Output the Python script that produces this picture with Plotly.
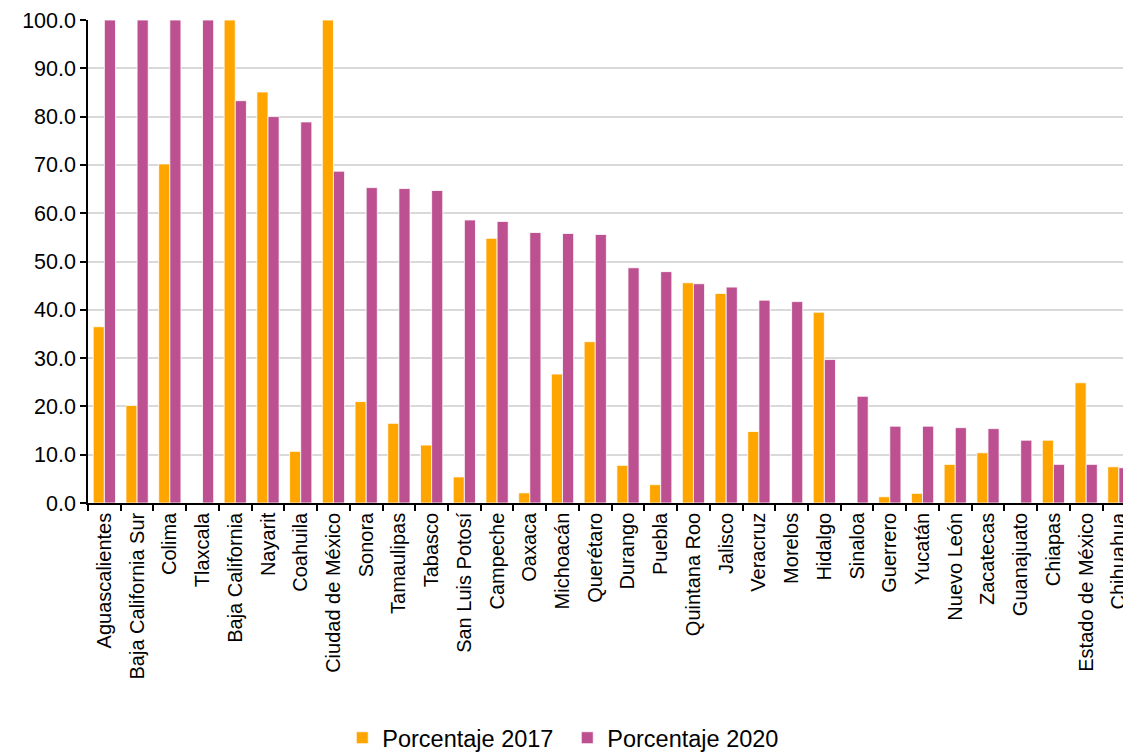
import plotly.graph_objects as go

estados = ["Aguascalientes", "Baja California Sur", "Colima", "Tlaxcala", "Baja California",
           "Nayarit", "Coahuila", "Ciudad de México", "Sonora", "Tamaulipas", "Tabasco",
           "San Luis Potosí", "Campeche", "Oaxaca", "Michoacán", "Querétaro", "Durango",
           "Puebla", "Quintana Roo", "Jalisco", "Veracruz", "Morelos", "Hidalgo", "Sinaloa",
           "Guerrero", "Yucatán", "Nuevo León", "Zacatecas", "Guanajuato", "Chiapas",
           "Estado de México", "Chihuahua"]

porc_2017 = [36.5, 20.2, 70.2, 0.0, 100.0, 85.1, 10.7, 100.0, 21.0, 16.5, 12.0,
             5.4, 54.8, 2.1, 26.7, 33.4, 7.8, 3.8, 45.6, 43.4, 14.8, 0.0, 39.5, 0.0,
             1.3, 2.0, 8.0, 10.4, 0.0, 13.0, 24.9, 7.5]

porc_2020 = [100.0, 100.0, 100.0, 100.0, 83.3, 80.0, 78.9, 68.7, 65.3, 65.1, 64.7,
             58.6, 58.3, 56.0, 55.8, 55.6, 48.7, 47.9, 45.4, 44.7, 42.0, 41.7, 29.7, 22.1,
             15.9, 15.9, 15.6, 15.4, 13.0, 8.0, 8.0, 7.3]

y_ticks = [0, 10, 20, 30, 40, 50, 60, 70, 80, 90, 100]

font_family = "Liberation Sans, Arial, sans-serif"

fig = go.Figure()
fig.add_trace(go.Bar(x=estados, y=porc_2017, name="Porcentaje 2017",
                     marker=dict(color="#FFA500", line=dict(color="white", width=0.8))))
fig.add_trace(go.Bar(x=estados, y=porc_2020, name="Porcentaje 2020",
                     marker=dict(color="#BD5090", line=dict(color="white", width=0.8))))

fig.update_layout(
    width=1123, height=745,
    margin=dict(l=80, r=0, t=12, b=250, autoexpand=False),
    plot_bgcolor="white", paper_bgcolor="white",
    barmode="group", bargap=0.32, bargroupgap=0.0,
    font=dict(family=font_family, size=21, color="#000000"),
    legend=dict(orientation="h", xref="container", x=0.498, xanchor="center",
                yref="paper", y=-0.532, yanchor="bottom", font=dict(size=23.5),
                itemwidth=30, entrywidthmode="pixels", entrywidth=180),
)
fig.update_xaxes(
    type="category", range=[-0.5, 31.37], tickangle=-90, tickson="boundaries",
    ticks="outside", ticklen=6, tickwidth=1.5, tickcolor="black",
    showline=True, linecolor="black", linewidth=1.5, showgrid=False,
    tickfont=dict(size=20), automargin=False,
)
fig.update_yaxes(
    range=[0, 100], tickvals=y_ticks, tickformat=".1f",
    ticks="outside", ticklen=6, tickwidth=1.5, tickcolor="black",
    showline=True, linecolor="black", linewidth=1.5,
    showgrid=True, gridcolor="#D9D9D9", gridwidth=1.5, zeroline=False,
    tickfont=dict(size=21.5), automargin=False,
)

fig.write_html("out.html")
